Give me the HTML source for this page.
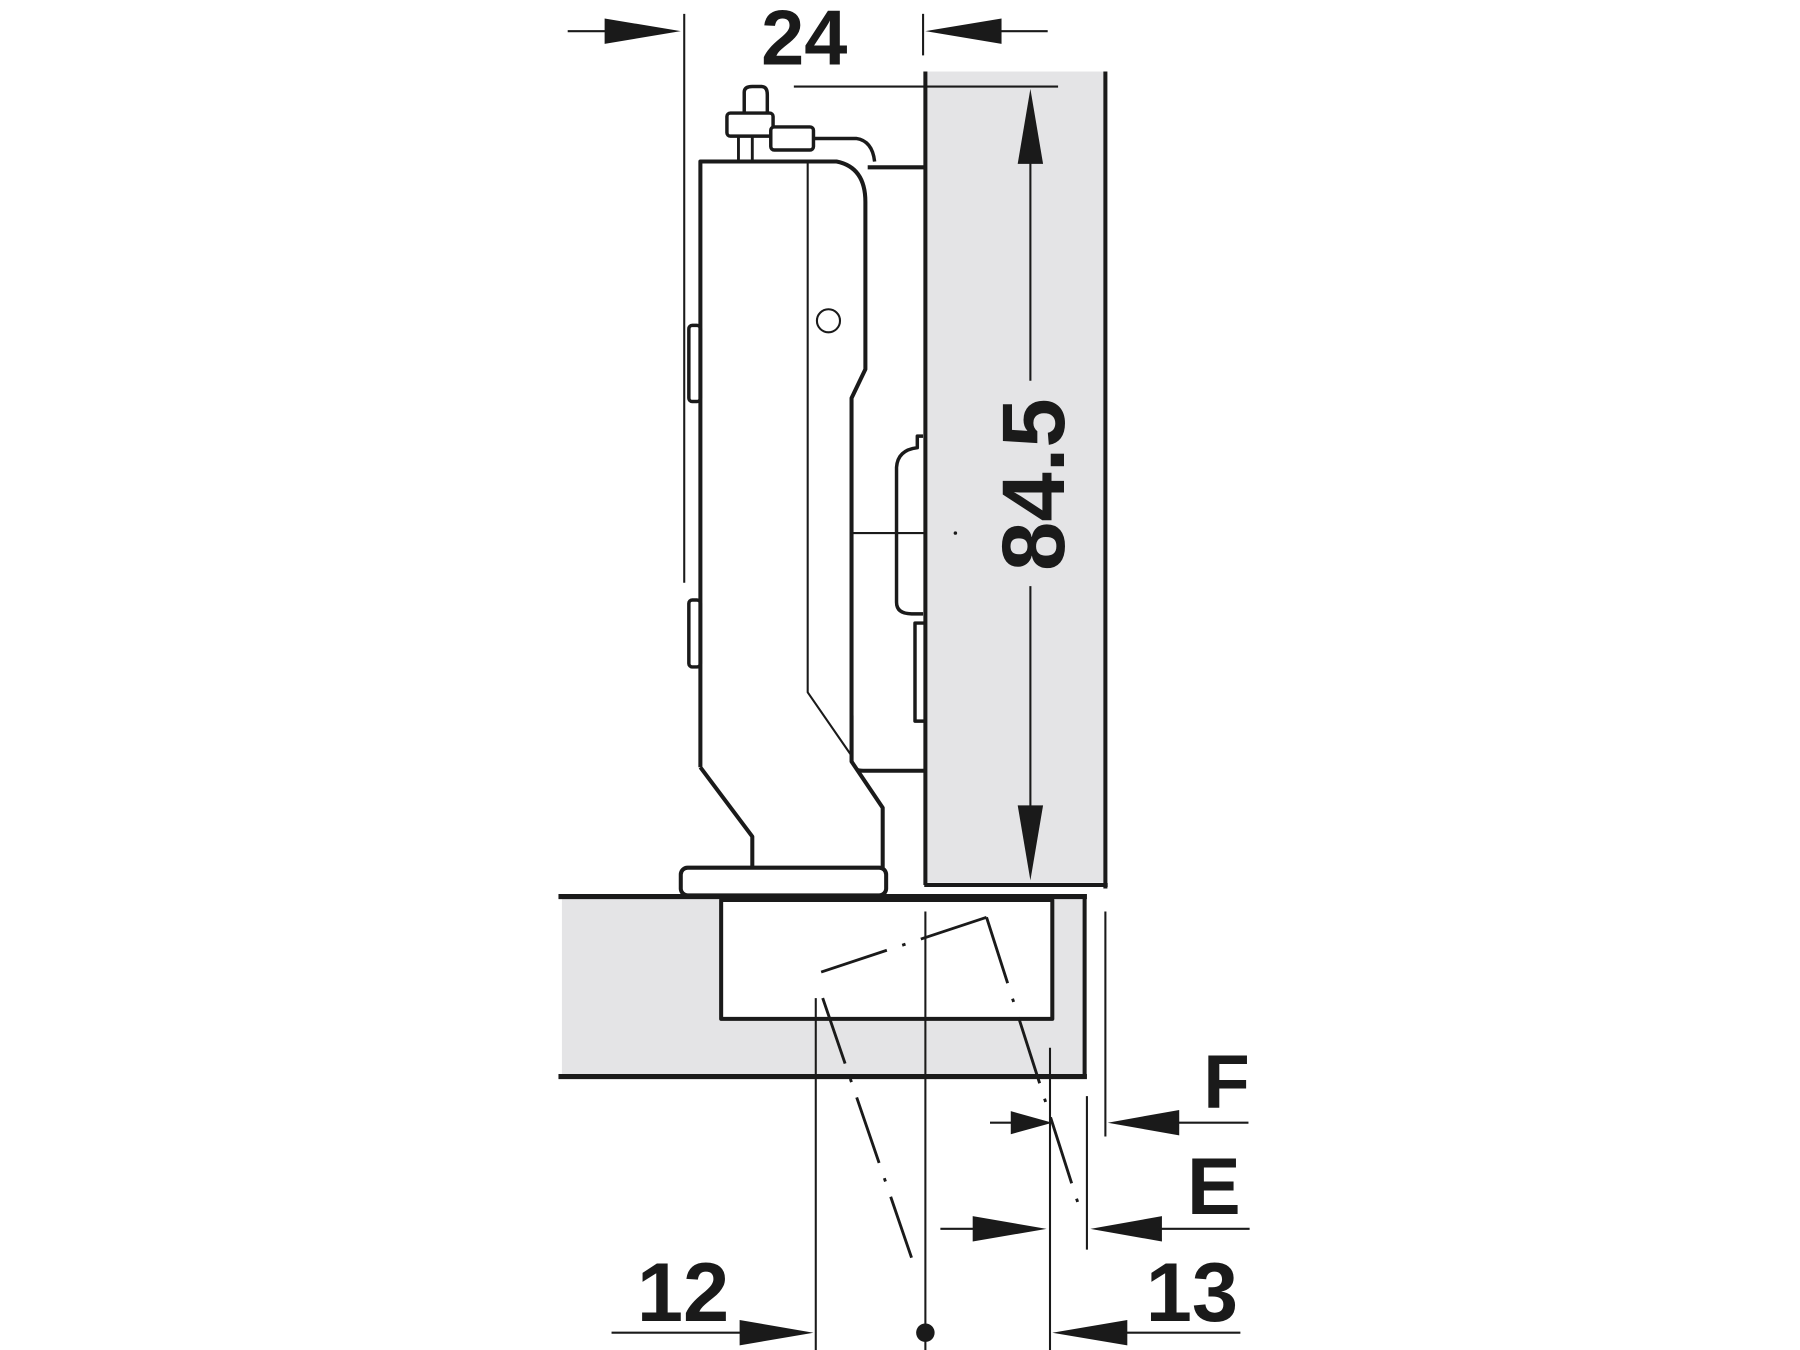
<!DOCTYPE html>
<html><head><meta charset="utf-8"><style>
html,body{margin:0;padding:0;background:#fff;}
svg{display:block;}
text{font-family:"Liberation Sans",sans-serif;font-weight:bold;fill:#1a1a1a;}
</style></head><body>
<svg width="1800" height="1350" viewBox="0 0 1560 1170" xmlns="http://www.w3.org/2000/svg">
<g stroke="#1a1a1a" fill="none" stroke-linejoin="round">
<!-- door panel -->
<rect x="802" y="62" width="156" height="703" fill="#e4e4e6" stroke="none"/>
<line x1="802" y1="62" x2="802" y2="767" stroke-width="3.5"/>
<line x1="958" y1="62" x2="958" y2="770" stroke-width="3.5"/>
<line x1="801" y1="767" x2="960" y2="767" stroke-width="3.5"/>
<line x1="688" y1="75" x2="917" y2="75" stroke-width="1.8"/>
<!-- cabinet side -->
<rect x="487" y="777" width="453" height="156" fill="#e4e4e6" stroke="none"/>
<rect x="625" y="780" width="287" height="103" fill="#fff" stroke="#1a1a1a" stroke-width="3.5"/>
<line x1="484" y1="777" x2="942" y2="777" stroke-width="4.5"/>
<line x1="940" y1="776" x2="940" y2="934" stroke-width="3.5"/>
<line x1="484" y1="933" x2="942" y2="933" stroke-width="4.5"/>
<line x1="958" y1="790" x2="958" y2="985" stroke-width="1.8"/>

<!-- back plate -->
<path d="M752 145 H802" stroke-width="3.5"/>
<path d="M738 620 V660 Q738 668 748 668 H802" stroke-width="3.5"/>
<line x1="738" y1="462" x2="802" y2="462" stroke-width="1.8"/>
<path d="M800 378 H795 V388 Q778 390 777 405 V522 Q777 532 790 532 H800" stroke-width="3"/>
<path d="M802 540 H793 V625 H802" stroke-width="3"/>
<!-- arm body -->
<path d="M607 665 V140 H725 Q750 145 750 175 V320 L738 345 V660 L765 700 V752 H652 V725 L607 665 Z" stroke="none" fill="#fff"/>
<path d="M607 665 V140 H725 Q750 145 750 175 V320 L738 345 V660 L765 700 V752 M607 665 L652 725 V752" stroke-width="3.5"/>
<path d="M700 140 V600 L738 655" stroke-width="1.8"/>
<circle cx="718" cy="278" r="10" stroke-width="1.8" fill="#fff"/>
<rect x="597" y="282" width="10" height="66" rx="3" stroke-width="3"/>
<rect x="597" y="520" width="10" height="58" rx="3" stroke-width="3"/>
<rect x="590" y="752" width="178" height="24" rx="6" stroke-width="3.5" fill="#fff"/>
<!-- top screw -->
<path d="M645 100 V80 Q645 75 652 75 H660 Q665 75 665 82 V100" stroke-width="3"/>
<rect x="630" y="98" width="40" height="20" rx="3" stroke-width="3" fill="#fff"/>
<rect x="668" y="110" width="37" height="20" rx="3" stroke-width="3" fill="#fff"/>
<path d="M705 120 H742 Q756 122 758 140" stroke-width="3"/>
<line x1="640" y1="118" x2="640" y2="140" stroke-width="2.5"/>
<line x1="652" y1="118" x2="652" y2="140" stroke-width="2.5"/>
<circle cx="828" cy="462" r="1.5" fill="#1a1a1a" stroke="none"/>

<!-- dash-dot geometry -->
<g stroke-width="2.5" stroke-dasharray="60 14 3 14">
<line x1="855" y1="795" x2="710" y2="843"/>
<line x1="855" y1="795" x2="935" y2="1045"/>
<line x1="713" y1="865" x2="790" y2="1090"/>
</g>

<!-- vertical reference lines -->
<line x1="593" y1="12" x2="593" y2="505" stroke-width="1.8"/>
<line x1="800" y1="12" x2="800" y2="48" stroke-width="1.8"/>
<line x1="707" y1="865" x2="707" y2="1170" stroke-width="1.8"/>
<line x1="802" y1="790" x2="802" y2="1170" stroke-width="1.8"/>
<line x1="910" y1="908" x2="910" y2="1170" stroke-width="1.8"/>
<line x1="942" y1="950" x2="942" y2="1083" stroke-width="1.8"/>
<circle cx="802" cy="1155" r="8" fill="#1a1a1a" stroke="none"/>

<!-- dimension lines -->
<line x1="492" y1="27" x2="560" y2="27" stroke-width="1.8"/>
<line x1="850" y1="27" x2="908" y2="27" stroke-width="1.8"/>
<line x1="893" y1="130" x2="893" y2="330" stroke-width="1.8"/>
<line x1="893" y1="508" x2="893" y2="710" stroke-width="1.8"/>
<line x1="858" y1="973" x2="885" y2="973" stroke-width="1.8"/>
<line x1="1010" y1="973" x2="1082" y2="973" stroke-width="1.8"/>
<line x1="815" y1="1065" x2="850" y2="1065" stroke-width="1.8"/>
<line x1="1000" y1="1065" x2="1083" y2="1065" stroke-width="1.8"/>
<line x1="530" y1="1155" x2="645" y2="1155" stroke-width="1.8"/>
<line x1="970" y1="1155" x2="1075" y2="1155" stroke-width="1.8"/>
</g>
<g fill="#1a1a1a" stroke="none">
<polygon points="590,27 524,16 524,38"/>
<polygon points="802,27 868,16 868,38"/>
<polygon points="893,77 882,142 904,142"/>
<polygon points="893,763 882,698 904,698"/>
<polygon points="912,973 876,963 876,983"/>
<polygon points="960,973 1022,962 1022,984"/>
<polygon points="907,1065 843,1054 843,1076"/>
<polygon points="945,1065 1007,1054 1007,1076"/>
<polygon points="705,1155 641,1144 641,1166"/>
<polygon points="912,1155 977,1144 977,1166"/>
</g>
<text x="0" y="0" font-size="64" text-anchor="middle" transform="translate(697 56) scale(1.05 1.05)">24</text>
<text x="0" y="0" font-size="77" text-anchor="middle" transform="translate(922 420) rotate(-90)">84.5</text>
<text x="1063" y="960" font-size="66" text-anchor="middle">F</text>
<text x="1052" y="1052" font-size="70" text-anchor="middle">E</text>
<text x="592" y="1145" font-size="72" text-anchor="middle">12</text>
<text x="1033" y="1145" font-size="72" text-anchor="middle">13</text>
</svg>
</body></html>
